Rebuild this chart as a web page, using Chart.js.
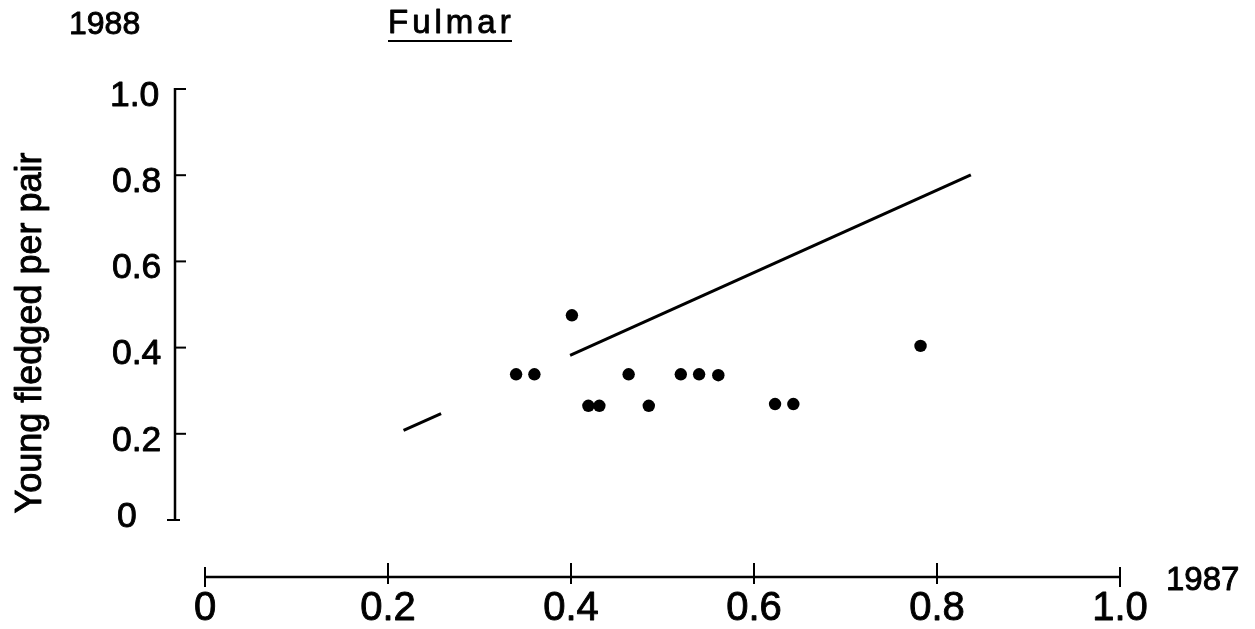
<!DOCTYPE html>
<html>
<head>
<meta charset="utf-8">
<title>Fulmar</title>
<script src="https://cdn.jsdelivr.net/npm/chart.js@4/dist/chart.umd.min.js"></script>
<style>
  html, body { margin: 0; padding: 0; background: #ffffff; }
  #wrap { width: 1255px; height: 629px; }
</style>
</head>
<body>
<div id="wrap"><canvas id="c" width="1255" height="629"></canvas></div>
<script>
// Breeding success per colony: 1987 (x) against 1988 (y)
const colonyX = [0.340, 0.360, 0.401, 0.419, 0.431, 0.463, 0.485, 0.520, 0.540, 0.561, 0.623, 0.643, 0.782];
const colonyY = [0.338, 0.338, 0.475, 0.265, 0.265, 0.338, 0.265, 0.338, 0.338, 0.336, 0.269, 0.269, 0.404];

// Fitted line, drawn in two pieces with a gap
const fitLowX = [0.217, 0.258];
const fitLowY = [0.208, 0.247];
const fitHighX = [0.399, 0.837];
const fitHighY = [0.382, 0.801];

// Axis ticks and their labels
const xTicks = [0, 0.2, 0.4, 0.6, 0.8, 1.0];
const xTickLabels = ['0', '0.2', '0.4', '0.6', '0.8', '1.0'];
const yTicks = [0, 0.2, 0.4, 0.6, 0.8, 1.0];
const yTickLabels = ['0', '0.2', '0.4', '0.6', '0.8', '1.0'];

const titleText = 'Fulmar';
const xYearLabel = '1987';
const yYearLabel = '1988';
const yAxisTitle = 'Young fledged per pair';

const toPoints = (xs, ys) => xs.map((x, i) => ({ x: x, y: ys[i] }));

const INK = '#000000';
const SANS = '"Liberation Sans", Arial, Helvetica, sans-serif';
const NARROW = '"Liberation Sans Narrow", "Liberation Sans", Arial, sans-serif';

// Filled text with a thin outline so the strokes read a little heavier
function inkText(ctx, text, x, y) {
  ctx.fillText(text, x, y);
  ctx.lineWidth = 0.9;
  ctx.strokeText(text, x, y);
}

// Draws the detached axes, ticks and all text around the plot
const frame = {
  id: 'frame',
  afterDraw(chart) {
    const ctx = chart.ctx;
    const xs = chart.scales.x;
    const ys = chart.scales.y;
    ctx.save();
    ctx.strokeStyle = INK;
    ctx.fillStyle = INK;
    ctx.lineCap = 'butt';
    ctx.lineJoin = 'round';

    // Vertical axis, set to the left of the plot
    const yAxisX = 175;
    const yTop = ys.getPixelForValue(1);
    const yBot = ys.getPixelForValue(0);
    ctx.lineWidth = 2.5;
    ctx.beginPath();
    ctx.moveTo(yAxisX, yTop - 1);
    ctx.lineTo(yAxisX, yBot + 1);
    ctx.stroke();
    ctx.lineWidth = 2;
    yTicks.forEach((v) => {
      const py = ys.getPixelForValue(v);
      ctx.beginPath();
      if (v === 0) {
        ctx.moveTo(yAxisX - 8, py);
        ctx.lineTo(yAxisX + 5, py);
      } else {
        ctx.moveTo(yAxisX, py);
        ctx.lineTo(yAxisX + 11, py);
      }
      ctx.stroke();
    });

    // Horizontal axis, set below the plot
    const xAxisY = 577;
    const xL = xs.getPixelForValue(0);
    const xR = xs.getPixelForValue(1);
    ctx.lineWidth = 2.5;
    ctx.beginPath();
    ctx.moveTo(xL, xAxisY);
    ctx.lineTo(xR, xAxisY);
    ctx.stroke();
    ctx.lineWidth = 2;
    xTicks.forEach((v, i) => {
      const px = xs.getPixelForValue(v);
      const end = (i === 0 || i === xTicks.length - 1);
      ctx.beginPath();
      ctx.moveTo(px, end ? xAxisY - 10 : xAxisY - 14);
      ctx.lineTo(px, end ? xAxisY + 10 : xAxisY + 7);
      ctx.stroke();
    });

    // Y tick labels, left-aligned in one column
    ctx.font = '35.5px ' + SANS;
    ctx.textAlign = 'left';
    ctx.textBaseline = 'middle';
    yTicks.forEach((v, i) => {
      const py = ys.getPixelForValue(v) + (v === 0 ? -3 : 7);
      const px = v === 0 ? 117 : (v === 1 ? 110 : 112);
      inkText(ctx, yTickLabels[i], px, py);
    });

    // X tick labels
    ctx.font = '40px ' + NARROW;
    ctx.textAlign = 'center';
    ctx.textBaseline = 'middle';
    xTicks.forEach((v, i) => {
      inkText(ctx, xTickLabels[i], xs.getPixelForValue(v), 609);
    });

    // Year labels
    ctx.font = '33px ' + NARROW;
    ctx.textAlign = 'left';
    inkText(ctx, xYearLabel, 1166, 581);
    ctx.font = '32px ' + SANS;
    ctx.textBaseline = 'alphabetic';
    inkText(ctx, yYearLabel, 69, 34);

    // Underlined title
    ctx.font = '33px ' + SANS;
    if ('letterSpacing' in ctx) ctx.letterSpacing = '4px';
    inkText(ctx, titleText, 388, 33);
    if ('letterSpacing' in ctx) ctx.letterSpacing = '0px';
    ctx.lineWidth = 2;
    ctx.beginPath();
    ctx.moveTo(388, 41);
    ctx.lineTo(512, 41);
    ctx.stroke();

    // Rotated y axis title
    ctx.save();
    ctx.translate(31, 333);
    ctx.rotate(-Math.PI / 2);
    ctx.font = '36px ' + SANS;
    ctx.textAlign = 'center';
    ctx.textBaseline = 'middle';
    inkText(ctx, yAxisTitle, 0, 0);
    ctx.restore();

    ctx.restore();
  }
};

new Chart(document.getElementById('c'), {
  type: 'scatter',
  data: {
    datasets: [
      {
        label: 'Colonies',
        data: toPoints(colonyX, colonyY),
        backgroundColor: INK,
        borderColor: INK,
        borderWidth: 0,
        pointRadius: 6.2,
        clip: false
      },
      {
        label: 'Fit (low)',
        data: toPoints(fitLowX, fitLowY),
        showLine: true,
        borderColor: INK,
        borderWidth: 3,
        pointRadius: 0,
        fill: false,
        clip: false
      },
      {
        label: 'Fit (high)',
        data: toPoints(fitHighX, fitHighY),
        showLine: true,
        borderColor: INK,
        borderWidth: 3,
        pointRadius: 0,
        fill: false,
        clip: false
      }
    ]
  },
  options: {
    responsive: false,
    animation: false,
    layout: { padding: { left: 205, right: 135, top: 89, bottom: 109 } },
    scales: {
      x: { type: 'linear', min: 0, max: 1, display: false },
      y: { type: 'linear', min: 0, max: 1, display: false }
    },
    plugins: {
      legend: { display: false },
      tooltip: { enabled: false }
    }
  },
  plugins: [frame]
});
</script>
</body>
</html>
